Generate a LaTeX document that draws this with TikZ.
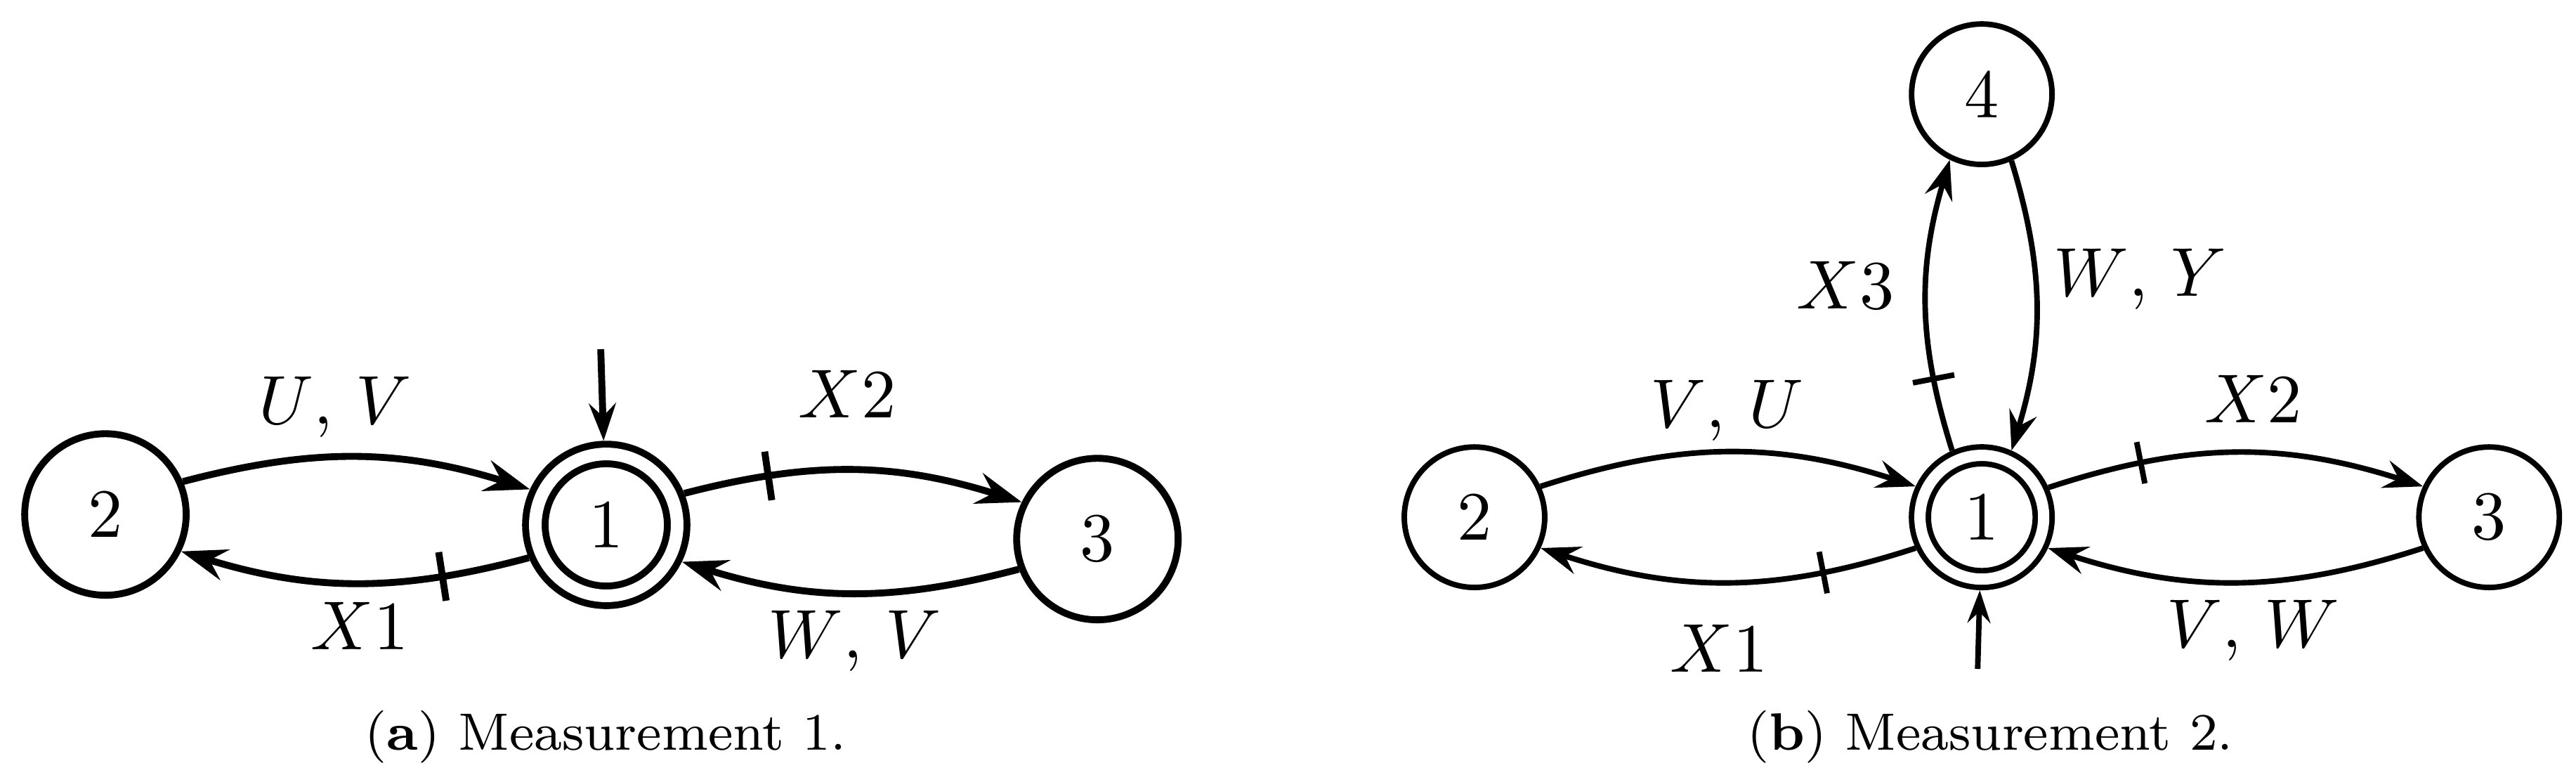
\documentclass[tikz,border=0pt]{standalone}
\usepackage{tikz}
\usetikzlibrary{arrows.meta,decorations.markings}

\begin{document}
\begin{tikzpicture}[
    sa/.style={draw, circle, line width=1pt, inner sep=0pt, minimum size=8.21mm},
    fa/.style={sa, double, double distance=1.83pt, minimum size=7.21mm,
      outer sep=1.92pt},
    sb/.style={draw, circle, line width=0.8pt, inner sep=0pt, minimum size=7.14mm},
    fb/.style={sb, double, double distance=1.63pt, minimum size=6.29mm,
      outer sep=1.62pt},
    ea/.style={line width=1pt, -{Stealth[length=6.6pt, width=4.6pt, inset=2.3pt]}},
    eb/.style={line width=0.8pt, -{Stealth[length=5.7pt, width=4.1pt, inset=2pt]}},
    ia/.style={line width=1pt, -{Stealth[length=5.4pt, width=3.9pt, inset=1.9pt]}},
    ib/.style={line width=0.8pt, -{Stealth[length=4.7pt, width=3.3pt, inset=1.6pt]}},
    cut/.style={postaction={decorate, decoration={markings,
      mark=at position 0.25 with {\draw[-] (0,-#1) -- (0,#1);}}}},
    lbl/.style={anchor=base, inner sep=0pt},
    captxt/.style={anchor=base, inner sep=0pt, font=\fontsize{7.6}{9}\selectfont}
  ]
    \useasboundingbox (0,0) rectangle (13.096,3.936);

    % (a) measurement 1
    \node[sa] (a2) at (0.536,1.321) {2};
    \node[fa] (a1) at (3.082,1.268) {1};
    \node[sa] (a3) at (5.579,1.196) {3};
    \coordinate (a0) at (3.054,2.161);

    \draw[ea] (a2.23) to[bend left=16] (a1.155);
    \draw[ea, cut=3.55pt] (a1.203) to[bend left=16] (a2.-26);
    \draw[ea, cut=3.55pt] (a1.22) to[bend left=16] (a3.154);
    \draw[ea] (a3.201) to[bend left=16] (a1.-26);
    \draw[ia] (a0) -- (a1);

    \node[lbl] (la21) at (1.704,1.779) {$U$, $V$};
    \node[lbl] (la12) at (1.829,0.636) {$X1$};
    \node[lbl] (la13) at (4.307,1.814) {$X2$};
    \node[lbl] (la31) at (4.346,0.593) {$W$, $V$};
    \node[captxt] (capa) at (3.079,0.125) {(\textbf{a}) Measurement 1.};

    % (b) measurement 2
    \node[sb] (b2) at (7.496,1.307) {2};
    \node[fb] (b1) at (10.075,1.307) {1};
    \node[sb] (b3) at (12.654,1.307) {3};
    \node[sb] (b4) at (10.075,3.457) {4};
    \coordinate (b0) at (10.054,0.536);

    \draw[eb] (b2.25) to[bend left=18] (b1.155);
    \draw[eb, cut=3.05pt] (b1.205) to[bend left=18] (b2.-25);
    \draw[eb, cut=3.05pt] (b1.24) to[bend left=18] (b3.155);
    \draw[eb] (b3.205) to[bend left=18] (b1.-25);
    \draw[eb, cut=3.05pt] (b1.114) to[bend left=17] (b4.244);
    \draw[eb] (b4.-66) to[bend left=17] (b1.66);
    \draw[ib] (b0) -- (b1);

    \node[lbl] (lb21) at (8.779,1.764) {$V$, $U$};
    \node[lbl] (lb12) at (8.739,0.521) {$X1$};
    \node[lbl] (lb13) at (11.454,1.789) {$X2$};
    \node[lbl] (lb31) at (11.454,0.646) {$V$, $W$};
    \node[lbl] (lb14) at (9.382,2.368) {$X3$};
    \node[lbl] (lb41) at (10.879,2.429) {$W$, $Y$};
    \node[captxt] (capb) at (10.118,0.125) {(\textbf{b}) Measurement 2.};
  \end{tikzpicture}
\end{document}
